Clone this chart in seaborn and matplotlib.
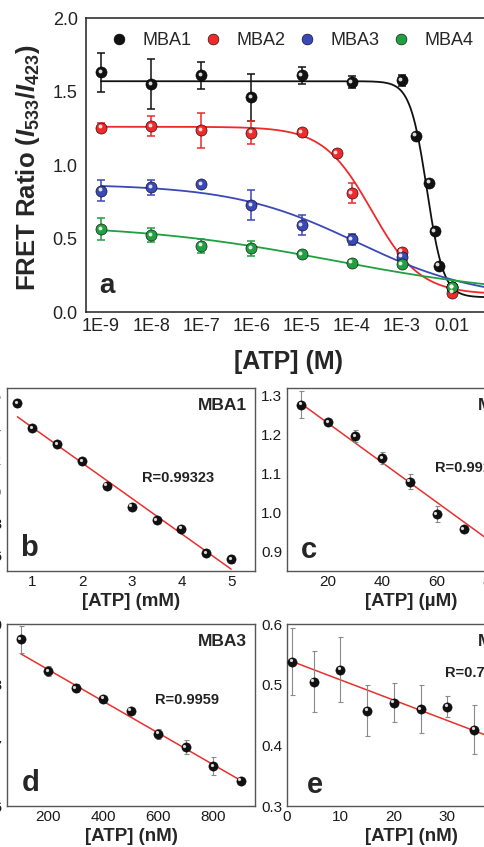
import numpy as np
import matplotlib
matplotlib.use("Agg")
import matplotlib.pyplot as plt
import matplotlib.transforms as mtransforms
from matplotlib.lines import Line2D
import seaborn as sns

sns.set_theme(style="white")
plt.rcParams['font.family'] = ['Liberation Sans', 'DejaVu Sans']
plt.rcParams['mathtext.fontset'] = 'custom'
plt.rcParams['mathtext.it'] = 'Liberation Sans:italic:bold'
plt.rcParams['mathtext.rm'] = 'Liberation Sans:bold'

# ---- panel a : FRET ratio vs [ATP] (log scale) ----
tick_pos_a = [1e-9, 1e-8, 1e-7, 1e-6, 1e-5, 1e-4, 1e-3, 1e-2]
tick_lab_a = ['1E-9', '1E-8', '1E-7', '1E-6', '1E-5', '1E-4', '1E-3', '0.01']

mba1_x = [1e-9, 1e-8, 1e-7, 1e-6, 1e-5, 1e-4, 1e-3, 1.9e-3, 3.5e-3, 4.5e-3, 5.5e-3, 1e-2]
mba1_y = [1.63, 1.55, 1.61, 1.46, 1.61, 1.565, 1.575, 1.20, 0.88, 0.55, 0.315, 0.17]
mba1_e = [0.13, 0.17, 0.09, 0.16, 0.06, 0.04, 0.04, 0.01, 0.01, 0.01, 0.01, 0.01]

mba2_x = [1e-9, 1e-8, 1e-7, 1e-6, 1e-5, 5e-5, 1e-4, 1e-3, 1e-2]
mba2_y = [1.255, 1.265, 1.235, 1.22, 1.225, 1.08, 0.81, 0.41, 0.13]
mba2_e = [0.03, 0.07, 0.12, 0.08, 0.02, 0.02, 0.07, 0.02, 0.02]

mba3_x = [1e-9, 1e-8, 1e-7, 1e-6, 1e-5, 1e-4, 1e-3, 1e-2]
mba3_y = [0.825, 0.848, 0.87, 0.728, 0.592, 0.494, 0.375, 0.17]
mba3_e = [0.07, 0.05, 0.0, 0.1, 0.07, 0.04, 0.02, 0.02]

mba4_x = [1e-9, 1e-8, 1e-7, 1e-6, 1e-5, 1e-4, 1e-3, 1e-2]
mba4_y = [0.562, 0.524, 0.45, 0.433, 0.392, 0.335, 0.327, 0.17]
mba4_e = [0.075, 0.05, 0.05, 0.05, 0.015, 0.02, 0.02, 0.02]

# sigmoid fit: top, bottom, log10(midpoint), hill slope
mba1_fit = [1.57, 0.10, -2.5, 2.6]
mba2_fit = [1.26, 0.12, -3.6, 0.9]
mba3_fit = [0.87, 0.08, -3.9, 0.35]
mba4_fit = [0.60, 0.10, -4.36, 0.22]

names_a = ['MBA1', 'MBA2', 'MBA3', 'MBA4']
colors_a = ['#111111', '#f02a2a', '#3a48b8', '#20a040']

# ---- panels b-e : linear ranges ----
b_x = [0.7, 1, 1.5, 2, 2.5, 3, 3.5, 4, 4.5, 5]
b_y = [1.554, 1.398, 1.298, 1.194, 1.038, 0.908, 0.825, 0.771, 0.617, 0.581]
b_e = [0.025, 0.01, 0.01, 0.01, 0.01, 0.01, 0.01, 0.01, 0.01, 0.025]
b_fit = [1.625, -0.2215]

c_x = [10, 20, 30, 40, 50, 60, 70]
c_y = [1.277, 1.233, 1.197, 1.14, 1.08, 0.997, 0.958]
c_e = [0.035, 0.008, 0.015, 0.015, 0.02, 0.02, 0.008]
c_fit = [1.3305, -0.00505]

d_x = [100, 200, 300, 400, 500, 600, 700, 800, 900]
d_y = [0.875, 0.822, 0.7945, 0.777, 0.757, 0.719, 0.697, 0.6655, 0.642]
d_e = [0.022, 0.008, 0.006, 0.005, 0.005, 0.008, 0.012, 0.015, 0.004]
d_fit = [0.877, -0.000261]

e_x = [1, 5, 10, 15, 20, 25, 30, 35]
e_y = [0.538, 0.505, 0.525, 0.457, 0.4705, 0.46, 0.464, 0.426]
e_e = [0.055, 0.05, 0.054, 0.042, 0.032, 0.04, 0.018, 0.04]
e_fit = [0.5414, -0.00335]

W, H = 484, 847
fig = plt.figure(figsize=(W / 100, H / 100), dpi=100)


def box(left, top, right, bottom):
    return [left / W, 1 - bottom / H, (right - left) / W, (bottom - top) / H]


def balls(ax, x, y, color, size):
    sns.scatterplot(x=x, y=y, ax=ax, color=color, s=size, edgecolor='#000000',
                    linewidth=0.4, zorder=4, legend=False)
    shift = mtransforms.offset_copy(ax.transData, fig=fig, x=-1.4, y=1.4, units='dots')
    ax.scatter(x, y, s=size * 0.12, color='white', alpha=0.85, lw=0,
               transform=shift, zorder=5)


# ---------------- panel a ----------------
ax = fig.add_axes(box(86, 18, 492, 312))
ax.set_xscale('log')
xs = np.logspace(-9, -1.2, 500)
series = [(mba1_x, mba1_y, mba1_e, mba1_fit), (mba2_x, mba2_y, mba2_e, mba2_fit),
          (mba3_x, mba3_y, mba3_e, mba3_fit), (mba4_x, mba4_y, mba4_e, mba4_fit)]
for (x, y, err, fit), col in zip(series, colors_a):
    top, bot, x0, h = fit
    curve = bot + (top - bot) / (1 + 10 ** ((np.log10(xs) - x0) * h))
    sns.lineplot(x=xs, y=curve, ax=ax, color=col, lw=1.3, zorder=2)
    ax.errorbar(x, y, yerr=err, fmt='none', ecolor=col, elinewidth=1.1,
                capsize=3.2, capthick=1.1, zorder=3)
    balls(ax, x, y, col, 64)

ax.set_xlim(10 ** -9.3, 10 ** -1.2)
ax.set_ylim(0, 2.0)
ax.set_xticks(tick_pos_a)
ax.set_xticklabels(tick_lab_a)
ax.minorticks_off()
ax.set_yticks([0.0, 0.5, 1.0, 1.5, 2.0])
ax.set_yticklabels(['0.0', '0.5', '1.0', '1.5', '2.0'])
ax.tick_params(axis='x', direction='in', length=4, width=1, labelsize=13, pad=4, colors='#222222')
ax.tick_params(axis='y', direction='out', length=4, width=1, labelsize=13, pad=2, colors='#222222')
for sp in ax.spines.values():
    sp.set_color('#222222')
    sp.set_linewidth(1.1)
ax.set_xlabel('[ATP] (M)', fontsize=18, fontweight='bold')
ax.xaxis.set_label_coords(0.5, -0.13)
ax.set_ylabel(r'FRET Ratio ($\mathit{I}_{533}$/$\mathit{I}_{423}$)', fontsize=18.5,
              fontweight='bold')
ax.yaxis.set_label_coords(-0.108, 0.49)
ax.text(0.032, 0.09, 'a', transform=ax.transAxes, fontsize=20, fontweight='bold',
        va='center', ha='left')
handles = [Line2D([], [], ls='none', marker='o', ms=7.8, color=c, mec='black', mew=0.4)
           for c in colors_a]
ax.legend(handles, names_a, ncol=4, loc='upper left', bbox_to_anchor=(0.027, 1.0),
          frameon=False, fontsize=13, handlelength=0.8, handletextpad=0.9,
          columnspacing=0.8, borderaxespad=0.4)

# ---------------- panels b-e ----------------
sub = [
    (box(7, 388, 255, 571), b_x, b_y, b_e, b_fit, (0.49, 5.48), (0.506, 1.65),
     [1, 2, 3, 4, 5], [0.6, 0.8, 1.0, 1.2, 1.4, 1.6], '{:.1f}', '[ATP] (mM)',
     'MBA1', 'R=0.99323', 'b', (0.543, 0.51), (0.052, 0.126), False),
    (box(287, 388, 535, 571), c_x, c_y, c_e, c_fit, (4.8, 96.3), (0.851, 1.32),
     [20, 40, 60, 80], [0.9, 1.0, 1.1, 1.2, 1.3], '{:.1f}', '[ATP] (\u00b5M)',
     'MBA2', 'R=0.9915', 'c', (0.597, 0.563), (0.056, 0.115), True),
    (box(7, 624, 255, 806), d_x, d_y, d_e, d_fit, (50, 952), (0.6, 0.9),
     [200, 400, 600, 800], [0.6, 0.7, 0.8, 0.9], '{:.1f}', '[ATP] (nM)',
     'MBA3', 'R=0.9959', 'd', (0.597, 0.582), (0.06, 0.126), False),
    (box(287, 624, 535, 806), e_x, e_y, e_e, e_fit, (0, 46.4), (0.3, 0.6),
     [0, 10, 20, 30, 40], [0.3, 0.4, 0.5, 0.6], '{:.1f}', '[ATP] (nM)',
     'MBA4', 'R=0.7968', 'e', (0.637, 0.73), (0.08, 0.115), True),
]

for (pos, x, y, err, fit, xl, yl, xt, yt, fmt, xlab, name, rtxt, letter,
     rpos, lpos, extend) in sub:
    ax = fig.add_axes(pos)
    ax.set_xlim(*xl)
    ax.set_ylim(*yl)
    x_end = xl[1] if extend else max(x)
    fx = np.array([min(x), x_end])
    sns.lineplot(x=fx, y=fit[0] + fit[1] * fx, ax=ax, color='#e8302e', lw=1.1, zorder=2)
    ax.errorbar(x, y, yerr=err, fmt='none', ecolor='#8a8a8a', elinewidth=0.8,
                capsize=1.8, capthick=0.8, zorder=3)
    balls(ax, x, y, '#111111', 44)
    ax.set_xticks(xt)
    ax.set_yticks(yt)
    ax.set_yticklabels([fmt.format(v) for v in yt])
    ax.tick_params(axis='x', direction='in', length=3, width=0.8, labelsize=11, pad=3,
                   colors='#444444', labelcolor='#1a1a1a')
    ax.tick_params(axis='y', direction='out', length=2.5, width=0.8, labelsize=11, pad=1,
                   colors='#444444', labelcolor='#1a1a1a')
    for sp in ax.spines.values():
        sp.set_color('#555555')
        sp.set_linewidth(1.0)
    ax.set_xlabel(xlab, fontsize=13.5, fontweight='bold', labelpad=2.5)
    ax.text(0.968, 0.905, name, transform=ax.transAxes, fontsize=12.5,
            fontweight='bold', ha='right', va='center')
    ax.text(rpos[0], rpos[1], rtxt, transform=ax.transAxes, fontsize=10.5,
            fontweight='bold', ha='left', va='center', color='#222222')
    ax.text(lpos[0], lpos[1], letter, transform=ax.transAxes, fontsize=21,
            fontweight='bold', ha='left', va='center')

fig.savefig('out.png', dpi=100)
